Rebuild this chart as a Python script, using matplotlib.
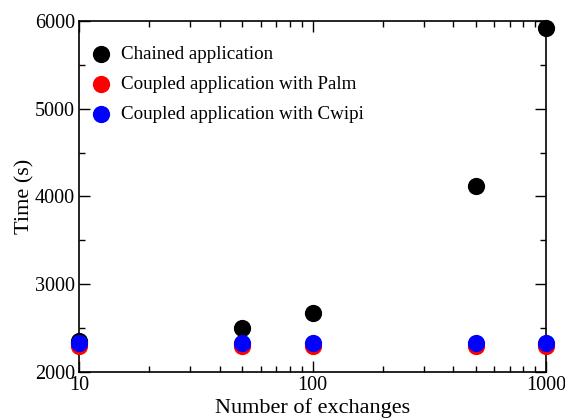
import matplotlib
matplotlib.use("Agg")
import matplotlib.pyplot as plt
from matplotlib.ticker import LogLocator, MultipleLocator, FixedLocator, FixedFormatter

plt.rcParams['font.family'] = ['Liberation Serif', 'DejaVu Serif']

# data
exchanges = [10, 50, 100, 500, 1000]
chained = [2350, 2505, 2672, 4120, 5920]
palm = [2300, 2300, 2295, 2300, 2300]
cwipi = [2332, 2332, 2330, 2335, 2335]

fig = plt.figure(figsize=(5.65, 4.19), dpi=100)
ax = fig.add_axes([0.1398, 0.1122, 0.8266, 0.8377])

ms = 130
ax.scatter(exchanges, chained, s=ms, color='black', label='Chained application', clip_on=False, zorder=3)
ax.scatter(exchanges, palm, s=ms, color='red', label='Coupled application with Palm', clip_on=False, zorder=4)
ax.scatter(exchanges, cwipi, s=ms, color='blue', label='Coupled application with Cwipi', clip_on=False, zorder=5)

ax.set_xscale('log')
ax.set_xlim(10, 1000)
ax.set_ylim(2000, 6000)
ax.xaxis.set_major_locator(FixedLocator([10, 100, 1000]))
ax.xaxis.set_major_formatter(FixedFormatter(['10', '100', '1000']))
ax.xaxis.set_minor_locator(LogLocator(base=10, subs=range(2, 10)))
ax.xaxis.set_minor_formatter(FixedFormatter([]))
ax.yaxis.set_major_locator(MultipleLocator(1000))
ax.yaxis.set_minor_locator(MultipleLocator(500))

ax.tick_params(which='both', direction='in', top=True, right=True, labelsize=14.5, width=1, pad=3)
ax.tick_params(which='major', length=8)
ax.tick_params(which='minor', length=4)
for s in ax.spines.values():
    s.set_linewidth(1.2)

ax.set_xlabel('Number of exchanges', fontsize=16, labelpad=2)
ax.set_ylabel('Time (s)', fontsize=16, labelpad=0)

ax.legend(loc='upper left', bbox_to_anchor=(0.015, 0.93), frameon=False, fontsize=13.7,
          handletextpad=0.25, borderaxespad=0.0, borderpad=0.0, labelspacing=0.66,
          handlelength=1.6, scatterpoints=1)

fig.savefig('out.png', dpi=100)
